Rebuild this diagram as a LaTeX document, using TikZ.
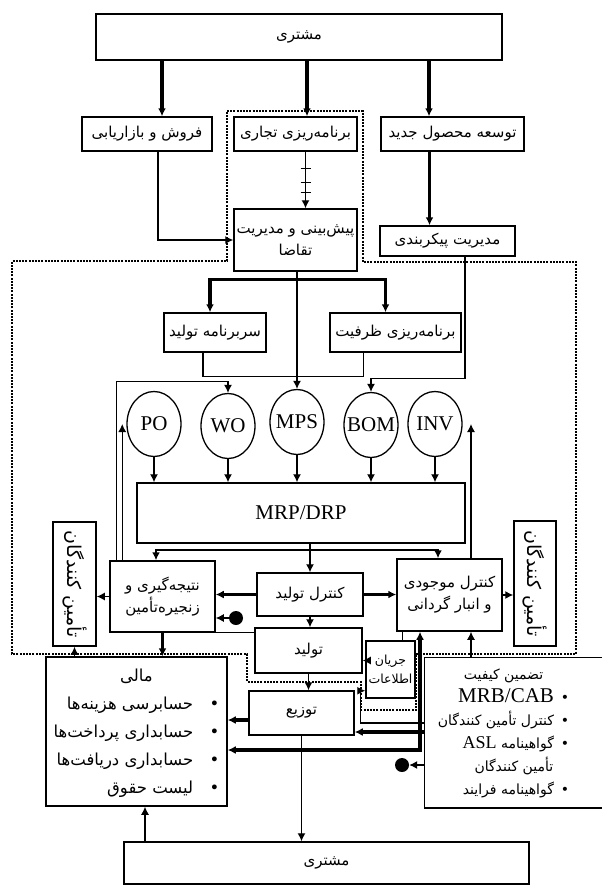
\documentclass[tikz,border=0pt]{standalone}
\usepackage{fontspec}
\usepackage{graphicx}
\setmainfont{Liberation Serif}
\newfontfamily\persian[Script=Arabic]{DejaVu Sans}
\TeXXeTstate=1
\usetikzlibrary{arrows.meta, shapes.geometric}
\newcommand{\rl}[1]{\beginR #1\endR}
\newcommand{\latn}{\rmfamily\fontsize{21}{24}\selectfont}

\begin{document}
\begin{tikzpicture}[x=1pt, y=-1pt, >={Latex[length=8pt,width=8pt]},
    box/.style={draw, rectangle, line width=1.5pt, fill=white, align=center, inner sep=2pt, font=\persian\fontsize{15}{22}\selectfont},
    bubble/.style={draw, ellipse, line width=1.3pt, fill=white, inner sep=0pt, minimum width=54pt, minimum height=65pt, font=\latn},
    dot/.style={circle, fill=black, inner sep=0pt, minimum size=14pt},
    fat/.style={line width=3.1pt},
    slim/.style={line width=1.2pt},
    region/.style={line width=1.6pt, dash pattern=on 2pt off 1.2pt}]
        \useasboundingbox (0,0) rectangle (602,886);

        % Layers
        \draw[region] (227,111) -- (363,111) -- (363,262) -- (576,262) -- (576,654) -- (416,654) -- (416,710) -- (361,710) -- (361,682) -- (247,682) -- (247,654) -- (12,654) -- (12,261) -- (227,261) -- cycle;

        % Components
        \node (client) [box, minimum width=406pt, minimum height=46pt] at (299,37) {\rl{مشتری}};
        \node (sales) [box, minimum width=130pt, minimum height=34pt] at (147,134) {\rl{فروش و بازاریابی}};
        \node (bizplan) [box, minimum width=123pt, minimum height=34pt] at (295.5,134) {\rl{برنامه‌ریزی تجاری}};
        \node (newprod) [box, minimum width=143pt, minimum height=34pt] at (452.5,134) {\rl{توسعه محصول جدید}};
        \node (forecast) [box, minimum width=123pt, minimum height=62pt] at (295.5,240) {\rl{پیش‌بینی و مدیریت}\\\rl{تقاضا}};
        \node (config) [box, minimum width=135pt, minimum height=30pt] at (447.5,241) {\rl{مدیریت پیکربندی}};
        \node (master) [box, minimum width=102pt, minimum height=39pt] at (215,332.5) {\rl{سربرنامه تولید}};
        \node (capacity) [box, minimum width=131pt, minimum height=39pt] at (395.5,332.5) {\rl{برنامه‌ریزی ظرفیت}};

        \node (po) [bubble] at (154,424) {\makebox[0pt]{PO}};
        \node (wo) [bubble] at (228,426) {\makebox[0pt]{WO}};
        \node (mps) [bubble] at (297,422) {\makebox[0pt]{MPS}};
        \node (bom) [bubble] at (371,425) {\makebox[0pt]{BOM}};
        \node (inv) [bubble] at (435,424) {\makebox[0pt]{INV}};

        \node (mrp) [box, minimum width=328pt, minimum height=60pt, font=\latn] at (301,513) {MRP/DRP};
        \node (result) [box, minimum width=105pt, minimum height=71pt] at (162.5,596.5) {\rl{نتیجه‌گیری و}\\\rl{زنجیره‌تأمین}};
        \node (supl) [box, minimum width=43pt, minimum height=124pt, font=\persian\fontsize{19}{22}\selectfont] at (74.5,584) {\rotatebox{-90}{\rl{تأمین کنندگان}}};
        \node (pctrl) [box, minimum width=106pt, minimum height=43pt] at (310,594.5) {\rl{کنترل تولید}};
        \node (stock) [box, minimum width=105pt, minimum height=72pt] at (449.5,595) {\rl{کنترل موجودی}\\\rl{و انبار گردانی}};
        \node (supr) [box, minimum width=42pt, minimum height=125pt, font=\persian\fontsize{19}{22}\selectfont] at (535,583.5) {\rotatebox{-90}{\rl{تأمین کنندگان}}};
        \node (prod) [box, minimum width=107pt, minimum height=45pt] at (308.5,650.5) {\rl{تولید}};
        \node (info) [box, minimum width=49pt, minimum height=57pt, inner sep=0pt, font=\persian\fontsize{12.5}{19}\selectfont] at (390.5,669.5) {\rl{جریان}\\\rl{اطلاعات}};
        \node (dist) [box, minimum width=105pt, minimum height=44pt] at (301.5,713) {\rl{توزیع}};
        \node (finance) [box, minimum width=181pt, minimum height=149pt, font=\persian\fontsize{16.5}{28}\selectfont] at (136.5,731.5) {%
            \begin{tabular}{@{}r@{}}
            \multicolumn{1}{@{}c@{}}{\rl{مالی}}\\
            \rl{•\quad حسابرسی هزینه‌ها}\\
            \rl{•\quad حسابداری پرداخت‌ها}\\
            \rl{•\quad حسابداری دریافت‌ها}\\
            \rl{•\quad لیست حقوق}
            \end{tabular}};
        \node (quality) [box, draw=none, minimum width=153pt, minimum height=149pt, font=\persian\fontsize{14}{23}\selectfont] at (503.5,732.5) {%
            \begin{tabular}{@{}r@{}}
            \multicolumn{1}{@{}c@{}}{\rl{تضمین کیفیت}}\\
            \rl{•\enspace\beginL\latn MRB/CAB\endL}\\
            \rl{•\enspace کنترل تأمین کنندگان}\\
            \rl{•\enspace گواهینامه \beginL{\rmfamily\fontsize{18}{20}\selectfont ASL}\endL}\\
            \rl{\hspace*{16pt}تأمین کنندگان}\\
            \rl{•\enspace گواهینامه فرایند}
            \end{tabular}};
        \draw[line width=1.5pt] ([xshift=26pt]quality.north east) -- ([xshift=-2pt]quality.north west) -- ([xshift=-2pt]quality.south west) -- ([xshift=26pt]quality.south east);
        \node (client2) [box, minimum width=405pt, minimum height=42pt] at (326.5,863) {\rl{مشتری}};

        \node (startdot) [dot] at (236,618) {};
        \node (enddot) [dot] at (402,765) {};

        % Arrows
        \draw[fat,->] ([xshift=15pt]sales.north |- client.south) -- ([xshift=15pt]sales.north);
        \draw[fat,->] ([xshift=11.5pt]bizplan.north |- client.south) -- ([xshift=11.5pt]bizplan.north);
        \draw[fat,->] ([xshift=-23.5pt]newprod.north |- client.south) -- ([xshift=-23.5pt]newprod.north);

        \draw[slim,->] ([xshift=11pt]sales.south) |- (forecast.west);
        \draw[slim,->] ([xshift=10pt]bizplan.south) -- ([xshift=10pt]bizplan.south |- forecast.north);
        \draw[slim] ([xshift=5pt,yshift=-17pt]bizplan.south) -- ([xshift=15pt,yshift=-17pt]bizplan.south);
        \draw[slim] ([xshift=5pt,yshift=-31pt]bizplan.south) -- ([xshift=15pt,yshift=-31pt]bizplan.south);
        \draw[slim] ([xshift=5pt,yshift=-41pt]bizplan.south) -- ([xshift=15pt,yshift=-41pt]bizplan.south);
        \draw[fat,->] ([xshift=-23pt]newprod.south) -- ([xshift=-23pt]newprod.south |- config.north);

        \coordinate (fork) at ([yshift=-8pt]forecast.south);
        \draw[fat,<->] ([xshift=-5pt]master.north) |- (fork) -| ([xshift=-10pt]capacity.north);
        \draw[slim,->] (mps.north |- forecast.south) -- (mps.north);
        \draw[slim] ([xshift=-12pt]master.south) -- ++(0,24) -| ([xshift=-32pt]capacity.south);
        \draw[slim,->] ([xshift=17.5pt]config.south) |- ([yshift=13pt]bom.north) -- (bom.north);

        \draw[slim,->] ([xshift=7pt]result.north west) |- ([yshift=11pt]wo.north) -- (wo.north);
        \draw[slim,->] ([xshift=13pt]result.north west) -- ([xshift=13pt]result.north west |- po.west);
        \draw[slim,->] ([xshift=21.5pt]stock.north) -- ([xshift=21.5pt]stock.north |- inv.east);

        \draw[slim,->] (po.south) -- (po.south |- mrp.north);
        \draw[slim,->] (wo.south) -- (wo.south |- mrp.north);
        \draw[slim,->] (mps.south) -- (mps.south |- mrp.north);
        \draw[slim,->] (bom.south) -- (bom.south |- mrp.north);
        \draw[slim,->] (inv.south) -- (inv.south |- mrp.north);

        \draw[line width=2pt,<->] ([xshift=-6.5pt]result.north) |- ([yshift=-6pt]mrp.south) -| ([xshift=-11.5pt]stock.north);
        \draw[slim,->] (mrp.south -| pctrl.north) -- (pctrl.north);
        \draw[fat,->] (pctrl.west) -- (pctrl.west -| result.east);
        \draw[fat,->] (pctrl.east) -- (pctrl.east -| stock.west);
        \draw[slim,->] (startdot) -- (startdot -| result.east);
        \draw[slim,->] (result.west) -- (result.west -| supl.east);
        \draw[slim,->] (stock.east) -- (stock.east -| supr.west);
        \draw[slim] (result.south east) -- (result.south east -| prod.west);
        \draw[slim,->] (pctrl.south) -- (pctrl.south |- prod.north);
        \draw[slim,->] (prod.south) -- (prod.south |- dist.north);
        \draw[slim,->] ([yshift=-10pt]prod.east -| info.west) -- ([yshift=-10pt]prod.east);
        \draw[slim] ([xshift=12pt]info.north) -- ([xshift=12pt]info.north |- stock.south);

        \draw[slim,->] ([xshift=-2pt,yshift=9.5pt]quality.west) -| ([xshift=-5pt,yshift=8pt]info.south west) -- ([yshift=8pt]info.south west);
        \draw[fat,->] ([xshift=-2pt,yshift=-19pt]dist.east -| quality.west) -- ([yshift=-19pt]dist.east);
        \draw[fat,<->] ([xshift=-29.5pt]stock.south) |- ([yshift=-18.5pt]finance.east);
        \draw[slim,->] ([xshift=21.5pt]stock.south |- quality.north) -- ([xshift=21.5pt]stock.south);
        \draw[slim,->] ([xshift=-2pt]quality.west |- enddot) -- (enddot);
        \draw[fat,->] ([yshift=-7pt]dist.west) -- ([yshift=-7pt]dist.west -| finance.east);
        \draw[fat,->] (result.south) -- (result.south |- finance.north);
        \draw[slim,->] (supl.south |- finance.north) -- (supl.south);
        \draw[slim,->] (dist.south) -- (dist.south |- client2.north);
        \draw[slim,->] ([xshift=8.5pt]finance.south |- client2.north) -- ([xshift=8.5pt]finance.south);
    \end{tikzpicture}
\end{document}
